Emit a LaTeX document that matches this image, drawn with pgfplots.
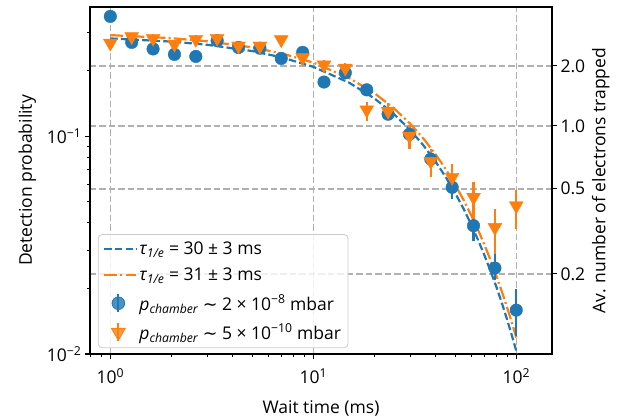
\documentclass[border=0pt]{standalone}
\usepackage{fontspec}
\setmainfont{Open Sans}
\newfontfamily\djv{DejaVu Sans}
\usepackage{pgfplots}
\pgfplotsset{compat=1.18}
\usepackage{pgfplotstable}
\definecolor{c1}{HTML}{1F77B4}
\definecolor{c2}{HTML}{FF7F0E}
\definecolor{gridc}{HTML}{B0B0B0}
\pgfplotsset{lineleg/.style={legend image code/.code={\draw[##1] (0pt,0pt) -- (32pt,0pt);}}}

\pgfplotstableread{
t p ep em
1.000 0.354 0.010 0.010
1.274 0.269 0.010 0.010
1.624 0.251 0.010 0.010
2.069 0.237 0.010 0.010
2.637 0.232 0.010 0.010
3.360 0.274 0.010 0.010
4.281 0.255 0.010 0.010
5.456 0.253 0.010 0.010
6.952 0.227 0.010 0.010
8.859 0.242 0.010 0.010
11.29 0.177 0.010 0.010
14.38 0.195 0.010 0.010
18.33 0.163 0.009 0.009
23.36 0.126 0.008 0.008
29.76 0.102 0.008 0.008
37.93 0.0784 0.007 0.007
48.33 0.0582 0.007 0.0068
61.58 0.0388 0.004 0.0058
78.48 0.0248 0.004 0.0030
100.0 0.0159 0.004 0.0038
}\bluedata

\pgfplotstableread{
t p ep em
1.000 0.267 0.012 0.012
1.274 0.286 0.012 0.012
1.624 0.281 0.012 0.012
2.069 0.264 0.012 0.012
2.637 0.278 0.012 0.012
3.360 0.281 0.012 0.012
4.281 0.259 0.012 0.012
5.456 0.259 0.012 0.012
6.952 0.277 0.012 0.012
8.859 0.229 0.012 0.012
11.29 0.212 0.012 0.012
14.38 0.205 0.012 0.012
18.33 0.132 0.012 0.0145
23.36 0.130 0.012 0.012
29.76 0.100 0.012 0.013
37.93 0.0766 0.011 0.012
48.33 0.0647 0.0097 0.010
61.58 0.0524 0.0093 0.0108
78.48 0.0381 0.0082 0.0093
100.0 0.0479 0.0088 0.0104
}\orangedata

\begin{document}
\begin{tikzpicture}
\useasboundingbox (-90pt,-64pt) rectangle (543pt,354pt);
% twin (right) axis
\begin{axis}[
  scale only axis, width=462pt, height=347pt,
  xmode=log, ymode=log, xmin=0.794, xmax=150, ymin=0.01, ymax=0.391,
  hide x axis, axis y line*=right,
  tick align=outside, major tick length=5pt,
  every major tick/.append style={black, line width=1.1pt},
  ytick={0.0233,0.0573,0.1113,0.2101},
  yticklabels={0.2,0.5,1.0,2.0},
  minor ytick={0.5},
  tick label style={font=\fontsize{17.5}{20}\selectfont},
  label style={font=\fontsize{17.5}{20}\selectfont},
  ymajorgrids,
  major grid style={gridc, line width=1.5pt, dash pattern=on 6.5pt off 3pt},
  axis line style={line width=1.2pt},
  ylabel={Av. number of electrons trapped},
]
\addplot[draw=none, forget plot] coordinates {(1,0.1) (10,0.05)};
\end{axis}
% main axis
\begin{axis}[
  scale only axis, width=462pt, height=347pt,
  xmode=log, ymode=log, xmin=0.794, xmax=150, ymin=0.01, ymax=0.391,
  axis lines=box,
  tick pos=left,
  tick align=outside,
  major tick length=5pt, minor tick length=2.8pt,
  every major tick/.append style={black, line width=1.1pt},
  every minor tick/.append style={black, line width=0.8pt},
  tick label style={font=\fontsize{17.5}{20}\selectfont},
  label style={font=\fontsize{17.5}{20}\selectfont},
  major grid style={gridc, line width=1.5pt, dash pattern=on 6.5pt off 3pt},
  axis line style={line width=1.2pt},
  xtick={1,10,100},
  xticklabels={10\textsuperscript{0},10\textsuperscript{1},10\textsuperscript{2}},
  xticklabel style={yshift=-6pt},
  minor xtick={0.8,0.9,2,3,4,5,6,7,8,9,20,30,40,50,60,70,80,90},
  ytick={0.01,0.1},
  yticklabels={10\textsuperscript{−2},10\textsuperscript{−1}},
  minor ytick={0.02,0.03,0.04,0.05,0.06,0.07,0.08,0.09,0.2,0.3},
  xmajorgrids,
  xlabel={Wait time (ms)},
  xlabel style={yshift=-10pt},
  ylabel={Detection probability},
  ylabel style={yshift=4pt},
  legend cell align=left,
  legend style={at={(0.017,0.017)}, anchor=south west,
    draw=gray!40, line width=0.8pt, rounded corners=4pt, fill=white, fill opacity=0.8, text opacity=1,
    font=\fontsize{17.5}{20}\selectfont, row sep=8.5pt, inner sep=5pt},
]
\addplot[c1, line width=2.2pt, dash pattern=on 7.4pt off 3.2pt, lineleg]
  coordinates {(1,0.2805) (2,0.2713) (3,0.2624) (5,0.2455) (7,0.2296) (10,0.2078)
  (15,0.1759) (20,0.1489) (25,0.1260) (30,0.1067) (35,0.0903) (40,0.0764)
  (45,0.0647) (50,0.0548) (55,0.0464) (60,0.0392) (65,0.0332) (70,0.0281)
  (75,0.0238) (80,0.0202) (85,0.0171) (90,0.01444) (95,0.01222) (100,0.01034) (101,0.0100)};
\addlegendentry{{\itshape τ}\textsubscript{\itshape 1/e} = 30 ± 3 ms}
\addplot[c2, line width=2.2pt, dash pattern=on 12.8pt off 3.2pt on 2pt off 3.2pt, lineleg]
  coordinates {(1,0.2905) (2,0.2813) (3,0.2723) (5,0.2553) (7,0.2394) (10,0.2173)
  (15,0.1849) (20,0.1574) (25,0.1339) (30,0.1140) (35,0.0970) (40,0.0826)
  (45,0.0703) (50,0.0598) (55,0.0509) (60,0.0433) (65,0.0369) (70,0.0314)
  (75,0.0267) (80,0.0227) (85,0.0193) (90,0.0164) (95,0.0140) (100,0.0119)};
\addlegendentry{{\itshape τ}\textsubscript{\itshape 1/e} = 31 ± 3 ms}
\addplot[forget plot, c1, only marks, mark=*, mark size=6.3pt,
  error bars/y dir=both, error bars/y explicit,
  error bars/error mark=none,
  error bars/error bar style={line width=2.2pt, c1}]
  table[x=t, y=p, y error plus=ep, y error minus=em] {\bluedata};
\addplot[forget plot, c2, only marks, mark=triangle*, mark size=8pt, mark options={rotate=180},
  error bars/y dir=both, error bars/y explicit,
  error bars/error mark=none,
  error bars/error bar style={line width=2.2pt, c2}]
  table[x=t, y=p, y error plus=ep, y error minus=em] {\orangedata};
\addlegendimage{legend image code/.code={
  \draw[c1, line width=2.2pt] (14pt,-9pt) -- (14pt,9pt);
  \draw[c1, fill=c1] plot[only marks, mark=*, mark size=6.3pt] coordinates {(14pt,0pt)};
  \path (0pt,0pt) (32pt,0pt);}}
\addlegendentry{{\itshape p}\textsubscript{\itshape chamber} {\djv ∼} 2 × 10\textsuperscript{−8} mbar}
\addlegendimage{legend image code/.code={
  \draw[c2, line width=2.2pt] (14pt,-9pt) -- (14pt,9pt);
  \draw[c2, fill=c2] plot[only marks, mark=triangle*, mark size=8pt, mark options={rotate=180}] coordinates {(14pt,0pt)};
  \path (0pt,0pt) (32pt,0pt);}}
\addlegendentry{{\itshape p}\textsubscript{\itshape chamber} {\djv ∼} 5 × 10\textsuperscript{−10} mbar}
\end{axis}
\end{tikzpicture}
\end{document}
